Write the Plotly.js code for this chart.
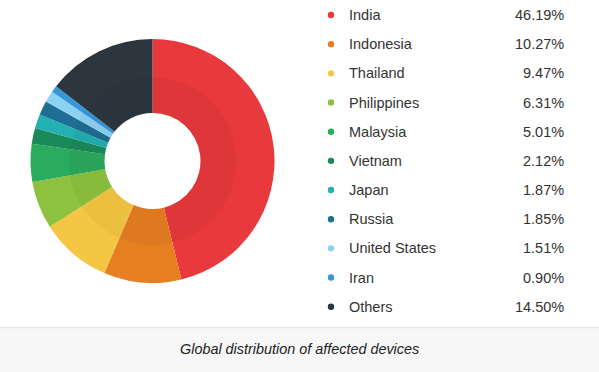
<!DOCTYPE html>
<html>
<head>
<meta charset="utf-8">
<script src="https://cdn.plot.ly/plotly-3.0.1.min.js"></script>
<style>
  html, body { margin: 0; padding: 0; background: #fff; }
  #chart { width: 599px; height: 372px; }
</style>
</head>
<body>
<div id="chart"></div>
<script>
const countries = ["India", "Indonesia", "Thailand", "Philippines", "Malaysia", "Vietnam", "Japan", "Russia", "United States", "Iran", "Others"];
const shares = [46.19, 10.27, 9.47, 6.31, 5.01, 2.12, 1.87, 1.85, 1.51, 0.90, 14.50];
const colors = ["#e8393c", "#e67e22", "#f5c643", "#8dc13f", "#2bab5e", "#1b8a5a", "#22b0b2", "#1f6e94", "#8dd2f3", "#3498db", "#2d353f"];
const caption = "Global distribution of affected devices";

const W = 599, H = 372;
const px = x => x / W;
const py = y => 1 - y / H;

// donut geometry (pixels)
const cx = 152.5, cy = 161, R = 122, rHole = 48, rShade = 84;

const pieMain = {
  type: "pie",
  values: shares,
  labels: countries,
  marker: { colors: colors, line: { width: 0 } },
  hole: rHole / R,
  sort: false,
  direction: "clockwise",
  rotation: 0,
  textinfo: "none",
  hoverinfo: "label+percent",
  showlegend: false,
  domain: { x: [px(cx - R), px(cx + R)], y: [py(cy + R), py(cy - R)] }
};

const pieShade = {
  type: "pie",
  values: shares,
  labels: countries,
  marker: { colors: shares.map(() => "rgba(0,0,0,0.035)"), line: { width: 0 } },
  hole: rHole / rShade,
  sort: false,
  direction: "clockwise",
  rotation: 0,
  textinfo: "none",
  hoverinfo: "skip",
  showlegend: false,
  domain: { x: [px(cx - rShade), px(cx + rShade)], y: [py(cy + rShade), py(cy - rShade)] }
};

const rowY0 = 15, rowStep = 29.17;
const annotations = [];
const shapes = [];

// caption band
shapes.push({ type: "rect", xref: "paper", yref: "paper", x0: 0, x1: 1, y0: 0, y1: py(327.5), fillcolor: "#f7f7f7", line: { width: 0 }, layer: "below" });
shapes.push({ type: "line", xref: "paper", yref: "paper", x0: 0, x1: 1, y0: py(327.5), y1: py(327.5), line: { color: "#e6e6e6", width: 1.5 } });

countries.forEach((c, i) => {
  const y = rowY0 + rowStep * i;
  shapes.push({ type: "circle", xref: "paper", yref: "paper",
    x0: px(331 - 3.2), x1: px(331 + 3.2), y0: py(y + 3.2), y1: py(y - 3.2),
    fillcolor: colors[i], line: { width: 0 } });
  annotations.push({ xref: "paper", yref: "paper", x: px(347), y: py(y), xanchor: "left", yanchor: "middle",
    text: c, showarrow: false, font: { family: "Liberation Sans, Arial, sans-serif", size: 14.5, color: "#333" } });
  annotations.push({ xref: "paper", yref: "paper", x: px(566), y: py(y), xanchor: "right", yanchor: "middle",
    text: shares[i].toFixed(2) + "%", showarrow: false, font: { family: "Liberation Sans, Arial, sans-serif", size: 14.5, color: "#333" } });
});

annotations.push({ xref: "paper", yref: "paper", x: px(299.5), y: py(349), xanchor: "center", yanchor: "middle",
  text: "<i>" + caption + "</i>", showarrow: false, font: { family: "Liberation Sans, Arial, sans-serif", size: 14.4, color: "#222" } });

const layout = {
  width: W, height: H,
  margin: { l: 0, r: 0, t: 0, b: 0, pad: 0 },
  paper_bgcolor: "#ffffff",
  showlegend: false,
  shapes: shapes,
  annotations: annotations
};

Plotly.newPlot("chart", [pieMain, pieShade], layout, { displayModeBar: false, staticPlot: true });
</script>
</body>
</html>
